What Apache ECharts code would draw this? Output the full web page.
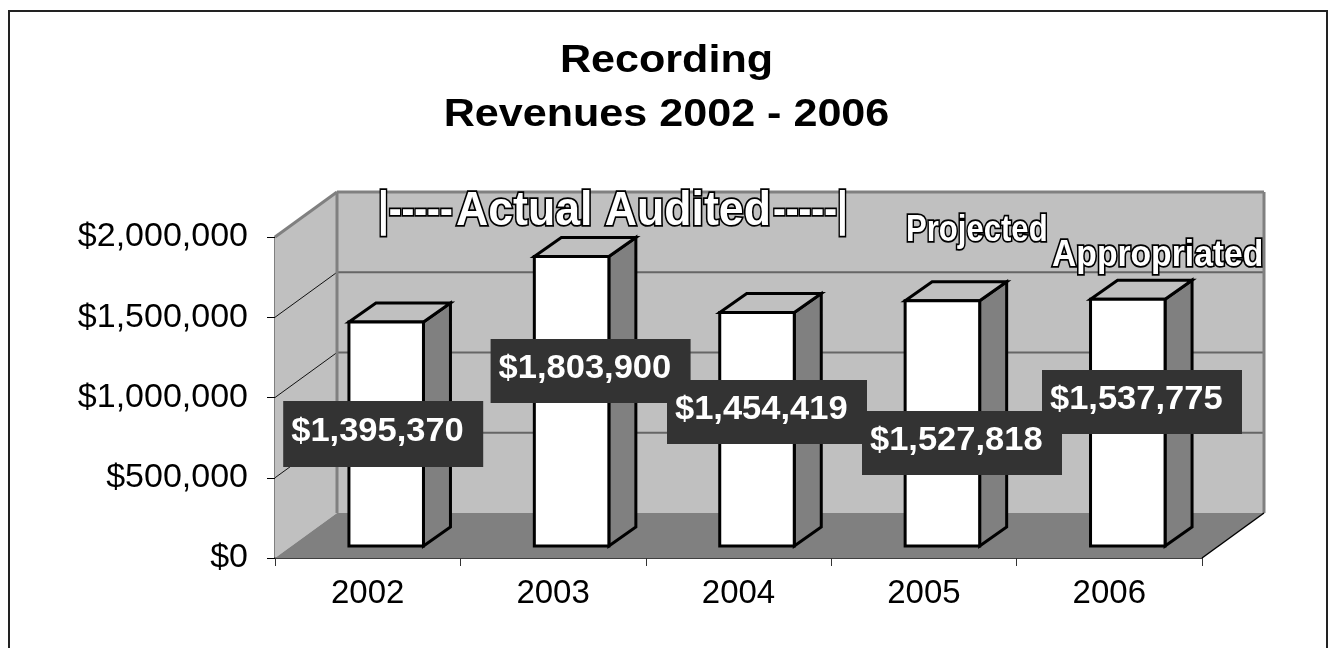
<!DOCTYPE html>
<html>
<head>
<meta charset="utf-8">
<title>Recording Revenues 2002 - 2006</title>
<style>html,body{margin:0;padding:0;background:#fff}#chart{width:1329px;height:648px}</style>
<script src="https://cdn.jsdelivr.net/npm/echarts@6/dist/echarts.min.js"></script>
</head>
<body>
<div id="chart"></div>
<script>
// Recording revenue by year
const years = ['2002', '2003', '2004', '2005', '2006'];
const revenues = [1395370, 1803900, 1454419, 1527818, 1537775];
const yTicks = [0, 500000, 1000000, 1500000, 2000000];
const titleLines = ['Recording', 'Revenues 2002 - 2006'];
const noteAuditedParts = ['|-----', 'Actual Audited', '-----|'];
const noteProjected = 'Projected';
const noteAppropriated = 'Appropriated';

// Hand-placed value boxes, relative to the top of each column's category point
const boxOffsets = [[-84.5, 67], [-62.5, 70.5], [-71.5, 55.4], [-61.9, 98.2], [-67.3, 58.8]];

// Pseudo-3D geometry of the plot box and of the columns
const WALL_DX = 62, WALL_DY = -45;
const BAR_DX = 27, BAR_DY = -19;
const BAR_SHIFT_X = 18.5, BAR_SHIFT_Y = -12, BAR_WIDTH_RATIO = 0.402;
const FONT = '"Liberation Sans", Arial, sans-serif';
const ASCENT = 0.8; // top of the text box to baseline, as a share of font size

const money = v => '$' + Number(v).toLocaleString('en-US');
const poly = (points, fill, stroke, lineWidth) => ({
  type: 'polygon',
  shape: { points },
  style: { fill, stroke: stroke || null, lineWidth: lineWidth || 0, lineJoin: 'miter' }
});
const line = (x1, y1, x2, y2, stroke, lineWidth) => ({
  type: 'line',
  shape: { x1, y1, x2, y2 },
  style: { stroke, lineWidth }
});

// Side wall, back wall, floor and gridlines
function renderBox(params, api) {
  const band = api.size([1, 0])[0];
  const [cx0, y0] = api.coord([0, 0]);
  const [cxN, yTop] = api.coord([years.length - 1, yTicks[yTicks.length - 1]]);
  const l = cx0 - band / 2, r = cxN + band / 2;
  const dx = WALL_DX, dy = WALL_DY;
  const children = [
    poly([[l, y0], [l + dx, y0 + dy], [l + dx, yTop + dy], [l, yTop]], '#C0C0C0'),
    poly([[l + dx, y0 + dy], [r + dx, y0 + dy], [r + dx, yTop + dy], [l + dx, yTop + dy]], '#C0C0C0'),
    poly([[l, y0], [r, y0], [r + dx, y0 + dy], [l + dx, y0 + dy]], '#808080')
  ];
  yTicks.slice(1, -1).forEach(t => {
    const y = api.coord([0, t])[1];
    children.push(line(l, y, l + dx, y + dy, '#111', 1));
    children.push(line(l + dx, y + dy, r + dx, y + dy, '#666', 2));
  });
  children.push(line(l, yTop, l + dx, yTop + dy, '#808080', 3));
  children.push(line(l + dx, yTop + dy, r + dx, yTop + dy, '#808080', 3));
  children.push(line(l + dx, yTop + dy, l + dx, y0 + dy, '#808080', 3));
  children.push(line(r + dx, yTop + dy, r + dx, y0 + dy, '#808080', 3));
  children.push(line(r, y0, r + dx, y0 + dy, '#000', 1.5));
  return { type: 'group', children };
}

// Extruded column: front, top and side faces
function renderBar(params, api) {
  const i = api.value(0);
  const v = api.value(1);
  const band = api.size([1, 0])[0];
  const w = band * BAR_WIDTH_RATIO;
  const [cx, top] = api.coord([i, v]);
  const bottom = api.coord([i, 0])[1];
  const l = cx + BAR_SHIFT_X - w / 2, r = l + w;
  const t = top + BAR_SHIFT_Y, b = bottom + BAR_SHIFT_Y;
  const dx = BAR_DX, dy = BAR_DY;
  return {
    type: 'group',
    children: [
      poly([[r, b], [r + dx, b + dy], [r + dx, t + dy], [r, t]], '#808080', '#000', 3),
      poly([[l, t], [r, t], [r + dx, t + dy], [l + dx, t + dy]], '#C0C0C0', '#000', 3),
      poly([[l, t], [r, t], [r, b], [l, b]], '#FFFFFF', '#000', 3)
    ]
  };
}

// Dark value box with white bold figure
function renderValueBox(params, api) {
  const i = api.value(0);
  const v = api.value(1);
  const [cx, top] = api.coord([i, v]);
  const [ox, oy] = boxOffsets[i];
  const x = cx + ox, y = top + oy;
  const h = i === 0 ? 66 : 64;
  return {
    type: 'group',
    children: [
      { type: 'rect', shape: { x, y, width: 200, height: h }, style: { fill: '#333333' } },
      {
        type: 'text', x: x + 8, y: y + h / 2 - 2.5, scaleX: 1.045,
        style: {
          text: money(v), fill: '#FFFFFF', font: 'bold 33px ' + FONT,
          textAlign: 'left', textVerticalAlign: 'middle'
        }
      }
    ]
  };
}

// Outlined WordArt-style caption; baseline is the y position given
const wordArt = (text, x, baseline, size, scaleX) => ({
  type: 'text', x, y: baseline - size * ASCENT, scaleX, z: 20,
  style: {
    text, fill: '#FFFFFF', stroke: '#000000', lineWidth: 3.5,
    font: 'bold ' + size + 'px ' + FONT, textAlign: 'left', textVerticalAlign: 'top'
  }
});
const titleText = (text, baseline) => ({
  type: 'text', x: 666.5, y: baseline - 39 * ASCENT, scaleX: 1.105, z: 20,
  style: {
    text, fill: '#000000', font: 'bold 39px ' + FONT,
    textAlign: 'center', textVerticalAlign: 'top'
  }
});

const barData = revenues.map((v, i) => [i, v]);
const chart = echarts.init(document.getElementById('chart'), null, { renderer: 'canvas' });
chart.setOption({
  animation: false,
  backgroundColor: '#FFFFFF',
  grid: { left: 275, right: 127, top: 237, bottom: 90 },
  xAxis: {
    type: 'category',
    data: years,
    axisLine: { lineStyle: { color: '#000', width: 1.5 } },
    axisTick: { show: true, length: 8, lineStyle: { color: '#333' } },
    axisLabel: { color: '#000', fontFamily: FONT, fontSize: 33, margin: 19 },
    splitLine: { show: false }
  },
  yAxis: {
    type: 'value',
    min: 0,
    max: 2000000,
    interval: 500000,
    axisLine: { show: true, lineStyle: { color: '#808080', width: 2 } },
    axisTick: { show: true, length: 8, lineStyle: { color: '#000' } },
    axisLabel: { color: '#000', fontFamily: FONT, fontSize: 34, margin: 27, formatter: money },
    splitLine: { show: false }
  },
  graphic: [
    { type: 'rect', z: 0, shape: { x: 9, y: 11, width: 1318, height: 660 },
      style: { fill: null, stroke: '#222', lineWidth: 2 } },
    titleText(titleLines[0], 73),
    titleText(titleLines[1], 127),
    wordArt(noteAuditedParts[0], 378, 226, 48, 0.8),
    wordArt(noteAuditedParts[1], 456, 226, 48, 0.93),
    wordArt(noteAuditedParts[2], 773, 226, 48, 0.8),
    wordArt(noteProjected, 906, 242, 37, 0.84),
    wordArt(noteAppropriated, 1052, 267, 37, 0.91)
  ],
  series: [
    { type: 'custom', z: 1, silent: true, clip: false, renderItem: renderBox, data: [[0, 0]] },
    { type: 'custom', z: 3, clip: false, renderItem: renderBar, data: barData },
    { type: 'custom', z: 4, clip: false, renderItem: renderValueBox, data: barData }
  ]
});
</script>
</body>
</html>
